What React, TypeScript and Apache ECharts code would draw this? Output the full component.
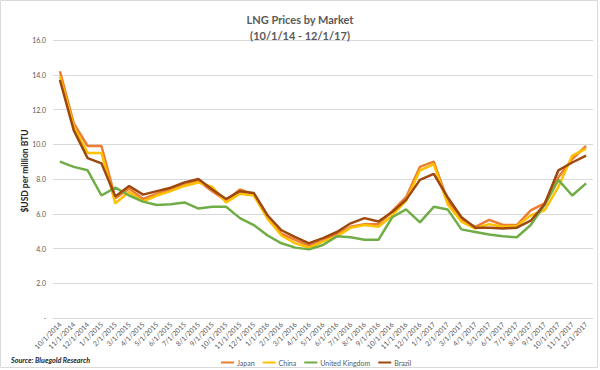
import React, { useEffect, useRef } from "react";
import * as echarts from "echarts";

const categories = [
  "10/1/2014", "11/1/2014", "12/1/2014",
  "1/1/2015", "2/1/2015", "3/1/2015", "4/1/2015", "5/1/2015", "6/1/2015", "7/1/2015", "8/1/2015", "9/1/2015", "10/1/2015", "11/1/2015", "12/1/2015",
  "1/1/2016", "2/1/2016", "3/1/2016", "4/1/2016", "5/1/2016", "6/1/2016", "7/1/2016", "8/1/2016", "9/1/2016", "10/1/2016", "11/1/2016", "12/1/2016",
  "1/1/2017", "2/1/2017", "3/1/2017", "4/1/2017", "5/1/2017", "6/1/2017", "7/1/2017", "8/1/2017", "9/1/2017", "10/1/2017", "11/1/2017", "12/1/2017",
];

const japan = [14.2, 11.2, 9.9, 9.9, 6.9, 7.45, 6.85, 7.15, 7.4, 7.65, 7.9, 7.3, 6.75, 7.4, 7.1, 5.8, 4.85, 4.5, 4.15, 4.45, 4.85, 5.25, 5.4, 5.4, 6.15, 6.95, 8.7, 9.0, 6.75, 5.65, 5.25, 5.65, 5.35, 5.35, 6.2, 6.6, 8.1, 9.15, 9.9];
const china = [13.9, 11.0, 9.5, 9.5, 6.6, 7.25, 6.7, 7.05, 7.3, 7.6, 7.8, 7.55, 6.65, 7.15, 7.05, 5.7, 4.75, 4.3, 4.05, 4.4, 4.7, 5.2, 5.35, 5.25, 5.9, 6.75, 8.5, 8.85, 6.55, 5.55, 5.15, 5.4, 5.25, 5.3, 5.9, 6.2, 7.55, 9.35, 9.75];
const unitedKingdom = [9.0, 8.7, 8.5, 7.05, 7.5, 7.05, 6.7, 6.5, 6.55, 6.65, 6.3, 6.4, 6.4, 5.75, 5.35, 4.75, 4.3, 4.05, 3.95, 4.2, 4.7, 4.65, 4.5, 4.5, 5.8, 6.25, 5.5, 6.4, 6.25, 5.1, 4.95, 4.8, 4.7, 4.65, 5.35, 6.5, 7.95, 7.05, 7.75];
const brazil = [13.7, 10.8, 9.2, 8.9, 7.0, 7.6, 7.1, 7.3, 7.5, 7.8, 8.0, 7.4, 6.85, 7.3, 7.2, 5.9, 5.05, 4.65, 4.3, 4.6, 4.95, 5.45, 5.75, 5.55, 6.1, 6.8, 7.95, 8.3, 6.95, 5.8, 5.2, 5.2, 5.15, 5.2, 5.6, 6.55, 8.5, 8.95, 9.35];

const seriesNames = ["Japan", "China", "United Kingdom", "Brazil"];
const seriesColors = ["#ED7D31", "#FFC000", "#70AD47", "#9E480E"];
const titleText = "LNG Prices by Market\n(10/1/14 - 12/1/17)";
const yAxisTitle = "$USD per million BTU";
const sourceText = "Source: Bluegold Research";

const FONT = "Lato, 'Open Sans', sans-serif";

export default function App() {
  const ref = useRef<HTMLDivElement>(null);
  useEffect(() => {
    if (!ref.current) return;
    const chart = echarts.init(ref.current, null, { renderer: "svg" });
    const datasets = [japan, china, unitedKingdom, brazil];
    chart.setOption({
      animation: false,
      backgroundColor: "#ffffff",
      textStyle: { fontFamily: FONT },
      title: {
        text: titleText,
        left: "center",
        top: 6,
        textStyle: { fontSize: 11, fontWeight: "bold", color: "#595959", lineHeight: 16, fontFamily: FONT },
      },
      legend: {
        data: seriesNames,
        left: 216,
        top: 354,
        icon: "rect",
        itemWidth: 13,
        itemHeight: 2,
        itemGap: 8,
        textStyle: { fontSize: 7, color: "#595959", fontFamily: FONT, padding: [0, 0, 0, -2] },
      },
      grid: { left: 53, right: 7, top: 40, bottom: 52, containLabel: false },
      xAxis: {
        type: "category",
        data: categories,
        boundaryGap: true,
        axisLine: { lineStyle: { color: "#d9d9d9" } },
        axisTick: { show: false },
        axisLabel: { rotate: 45, interval: 0, fontSize: 7, color: "#595959", margin: 5, fontFamily: FONT },
      },
      yAxis: {
        type: "value",
        min: 0,
        max: 16,
        interval: 2,
        axisLine: { show: false },
        axisTick: { show: false },
        splitLine: { lineStyle: { color: "#d9d9d9", width: 1 } },
        axisLabel: {
          fontSize: 7,
          color: "#595959",
          margin: 7,
          fontFamily: FONT,
          formatter: (v: number) => (v === 0 ? "-" : v.toFixed(1)),
        },
      },
      series: datasets.map((d, i) => ({
        name: seriesNames[i],
        type: "line",
        data: d,
        symbol: "none",
        lineStyle: { width: 2.5, color: seriesColors[i] },
        itemStyle: { color: seriesColors[i] },
      })),
      graphic: [
        {
          type: "rect",
          shape: { x: 0.5, y: 0.5, width: 597, height: 367 },
          style: { fill: "none", stroke: "#d9d9d9", lineWidth: 1 },
          silent: true,
        },
        {
          type: "text",
          x: 25,
          y: 171,
          rotation: Math.PI / 2,
          style: {
            text: yAxisTitle,
            fontSize: 8.5,
            fontWeight: "bold",
            fill: "#262626",
            fontFamily: FONT,
            align: "center",
            verticalAlign: "middle",
          },
        },
        {
          type: "text",
          x: 11,
          y: 357,
          style: {
            text: sourceText,
            fontSize: 7.2,
            fontWeight: "bold",
            fontStyle: "italic",
            fill: "#262626",
            fontFamily: FONT,
          },
        },
      ],
    });
    return () => chart.dispose();
  }, []);
  return (
    <div style={{ position: "fixed", left: 0, top: 0, width: 600, height: 370 }}>
      <div ref={ref} style={{ width: 600, height: 370 }} />
    </div>
  );
}
